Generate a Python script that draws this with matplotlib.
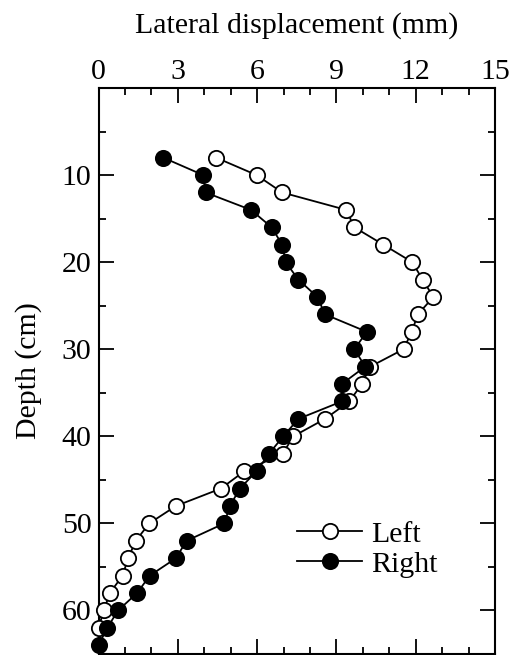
import numpy as np
import matplotlib
matplotlib.use("Agg")
import matplotlib.pyplot as plt
from matplotlib.ticker import MultipleLocator, FixedLocator

plt.rcParams['font.family'] = ['Liberation Serif', 'DejaVu Serif']
plt.rcParams['mathtext.fontset'] = 'stix'

# depth (cm) and lateral displacement (mm) for each wall side
depth_left = [8, 10, 12, 14, 16, 18, 20, 22, 24, 26, 28, 30, 32, 34, 36,
              38, 40, 42, 44, 46, 48, 50, 52, 54, 56, 58, 60, 62]
disp_left = [4.45, 5.98, 6.95, 9.37, 9.68, 10.78, 11.87, 12.26, 12.67, 12.08,
             11.85, 11.54, 10.28, 9.96, 9.49, 8.57, 7.37, 6.97, 5.52, 4.63,
             2.93, 1.92, 1.41, 1.12, 0.91, 0.43, 0.20, 0.0]

depth_right = [8, 10, 12, 14, 16, 18, 20, 22, 24, 26, 28, 30, 32, 34, 36,
               38, 40, 42, 44, 46, 48, 50, 52, 54, 56, 58, 60, 62, 64]
disp_right = [2.45, 3.96, 4.05, 5.77, 6.55, 6.95, 7.08, 7.56, 8.28, 8.57,
              10.15, 9.68, 10.09, 9.20, 9.20, 7.56, 6.99, 6.45, 5.98, 5.35,
              4.97, 4.76, 3.33, 2.93, 1.94, 1.46, 0.74, 0.33, 0.0]

depth_ticks = [10, 20, 30, 40, 50, 60]

fig = plt.figure(figsize=(5.12, 6.55), dpi=100)
ax = fig.add_axes([98.5 / 512, 1 - 654 / 655, (495 - 98.5) / 512, (654 - 88) / 655])

ax.plot(disp_left, depth_left, '-o', color='black', mfc='white', mec='black',
        ms=11, mew=1.3, lw=1.3, label='Left', clip_on=False, zorder=3)
ax.plot(disp_right, depth_right, '-o', color='black', mfc='black', mec='black',
        ms=11, mew=1.3, lw=1.3, label='Right', clip_on=False, zorder=3)

ax.set_xlim(0, 15)
ax.set_ylim(65, 0)
ax.xaxis.set_major_locator(MultipleLocator(3))
ax.xaxis.set_minor_locator(MultipleLocator(1))
ax.yaxis.set_major_locator(FixedLocator(depth_ticks))
ax.yaxis.set_minor_locator(MultipleLocator(5))
ax.xaxis.tick_top()
ax.xaxis.set_label_position('top')
ax.tick_params(which='both', direction='in', top=True, bottom=True, left=True, right=True,
               labelsize=21.5, width=1.3)
ax.tick_params(axis='x', pad=2)
ax.tick_params(axis='y', pad=5)
ax.tick_params(which='major', length=11)
ax.tick_params(which='minor', length=5)
for s in ax.spines.values():
    s.set_linewidth(1.5)

ax.set_xlabel('Lateral displacement (mm)', fontsize=21.5, labelpad=19)
ax.set_ylabel('Depth (cm)', fontsize=21.5, labelpad=14)

ax.legend(loc='upper left', bbox_to_anchor=(0.50, 0.235), frameon=False, fontsize=21.5,
          handlelength=2.2, handletextpad=0.3, labelspacing=0.1, borderpad=0,
          borderaxespad=0)

fig.savefig('out.png', dpi=100)
